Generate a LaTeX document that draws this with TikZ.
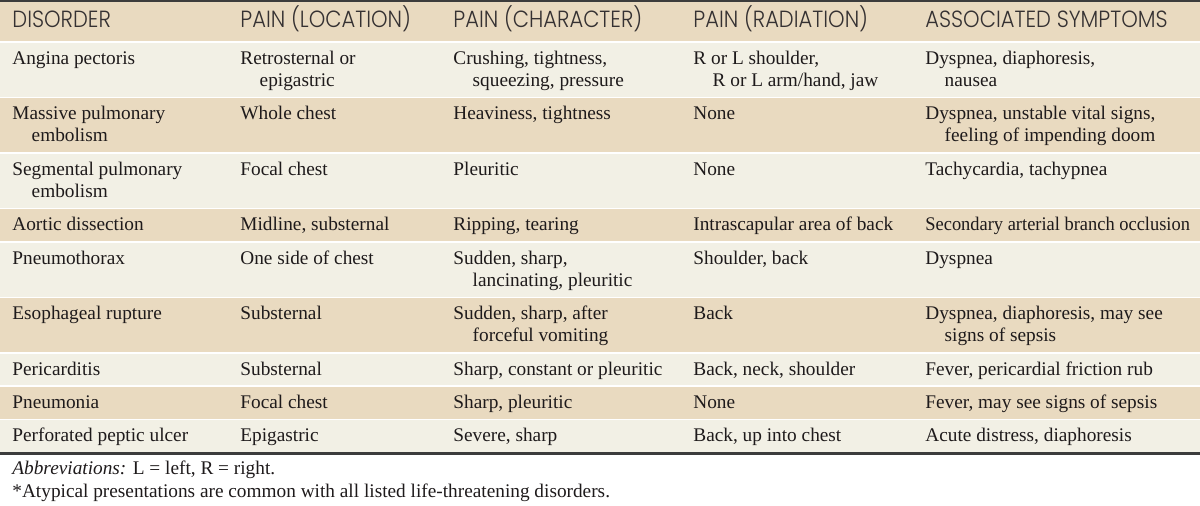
\documentclass[tikz,border=0pt]{standalone}
\usepackage{fontspec}
\setmainfont{Liberation Serif}
\newfontfamily\headfont[FakeStretch=0.9]{Poppins Light}
\definecolor{rowtan}{HTML}{E9DAC0}
\definecolor{rowpale}{HTML}{F2F0E5}
\definecolor{rulegray}{HTML}{3C3C3C}
\definecolor{ink}{HTML}{1E1A1B}
\tikzset{
	cell/.style={anchor=north west, inner sep=0pt, align=left, text=ink, font=\fontsize{9.65}{11}\selectfont},
	head/.style={anchor=base west, inner sep=0pt, text=ink!90, font=\headfont\fontsize{11.7}{12}\selectfont},
	note/.style={anchor=base west, inner sep=0pt, text=ink, font=\fontsize{9.65}{11}\selectfont},
	sep/.style={white, line width=0.75pt},
	rule/.style={rulegray, line width=1.25pt}
}
\newcommand{\hang}{\\\hspace*{1em}}
\begin{document}
\begin{tikzpicture}[x=0.5pt,y=-0.5pt]
	\useasboundingbox (0,0) rectangle (1200,506);

	\fill[rowtan]  (0,2)     rectangle (1200,42);
	\fill[rowpale] (0,42)    rectangle (1200,97.5);
	\fill[rowtan]  (0,97.5)  rectangle (1200,153);
	\fill[rowpale] (0,153)   rectangle (1200,208.5);
	\fill[rowtan]  (0,208.5) rectangle (1200,241.8);
	\fill[rowpale] (0,241.8) rectangle (1200,297.3);
	\fill[rowtan]  (0,297.3) rectangle (1200,352.8);
	\fill[rowpale] (0,352.8) rectangle (1200,386.1);
	\fill[rowtan]  (0,386.1) rectangle (1200,419.4);
	\fill[rowpale] (0,419.4) rectangle (1200,453);

	\draw[sep]
	(0,42)--(1200,42)
	(0,97.5)--(1200,97.5)
	(0,153)--(1200,153)
	(0,208.5)--(1200,208.5)
	(0,241.8)--(1200,241.8)
	(0,297.3)--(1200,297.3)
	(0,352.8)--(1200,352.8)
	(0,386.1)--(1200,386.1)
	(0,419.4)--(1200,419.4);

	\draw[rule]
	(0,1.2)--(1200,1.2)
	(0,453.5)--(1200,453.5);

	\node[head] (H1) at (12,28)  {DISORDER};
	\node[head] (H2) at (240,28) {PAIN (LOCATION)};
	\node[head] (H3) at (453,28) {PAIN (CHARACTER)};
	\node[head] (H4) at (693,28) {PAIN (RADIATION)};
	\node[head] (H5) at (925,28) {ASSOCIATED SYMPTOMS};

	\node[cell] (A1) at (12,48.6)  {\strut Angina pectoris};
	\node[cell] (A2) at (240,48.6) {\strut Retrosternal or\hang epigastric};
	\node[cell] (A3) at (453,48.6) {\strut Crushing, tightness,\hang squeezing, pressure};
	\node[cell] (A4) at (693,48.6) {\strut R or L shoulder,\hang R or L arm/hand, jaw};
	\node[cell] (A5) at (925,48.6) {\strut Dyspnea, diaphoresis,\hang nausea};

	\node[cell] (B1) at (12,104.1)  {\strut Massive pulmonary\hang embolism};
	\node[cell] (B2) at (240,104.1) {\strut Whole chest};
	\node[cell] (B3) at (453,104.1) {\strut Heaviness, tightness};
	\node[cell] (B4) at (693,104.1) {\strut None};
	\node[cell] (B5) at (925,104.1) {\strut Dyspnea, unstable vital signs,\hang feeling of impending doom};

	\node[cell] (C1) at (12,159.6)  {\strut Segmental pulmonary\hang embolism};
	\node[cell] (C2) at (240,159.6) {\strut Focal chest};
	\node[cell] (C3) at (453,159.6) {\strut Pleuritic};
	\node[cell] (C4) at (693,159.6) {\strut None};
	\node[cell] (C5) at (925,159.6) {\strut Tachycardia, tachypnea};

	\node[cell] (D1) at (12,215.1)  {\strut Aortic dissection};
	\node[cell] (D2) at (240,215.1) {\strut Midline, substernal};
	\node[cell] (D3) at (453,215.1) {\strut Ripping, tearing};
	\node[cell] (D4) at (693,215.1) {\strut Intrascapular area of back};
	\node[cell] (D5) at (925,215.1) {\strut\scalebox{0.955}[1]{Secondary arterial branch occlusion}};

	\node[cell] (E1) at (12,248.4)  {\strut Pneumothorax};
	\node[cell] (E2) at (240,248.4) {\strut One side of chest};
	\node[cell] (E3) at (453,248.4) {\strut Sudden, sharp,\hang lancinating, pleuritic};
	\node[cell] (E4) at (693,248.4) {\strut Shoulder, back};
	\node[cell] (E5) at (925,248.4) {\strut Dyspnea};

	\node[cell] (F1) at (12,303.9)  {\strut Esophageal rupture};
	\node[cell] (F2) at (240,303.9) {\strut Substernal};
	\node[cell] (F3) at (453,303.9) {\strut Sudden, sharp, after\hang forceful vomiting};
	\node[cell] (F4) at (693,303.9) {\strut Back};
	\node[cell] (F5) at (925,303.9) {\strut Dyspnea, diaphoresis, may see\hang signs of sepsis};

	\node[cell] (G1) at (12,359.4)  {\strut Pericarditis};
	\node[cell] (G2) at (240,359.4) {\strut Substernal};
	\node[cell] (G3) at (453,359.4) {\strut Sharp, constant or pleuritic};
	\node[cell] (G4) at (693,359.4) {\strut Back, neck, shoulder};
	\node[cell] (G5) at (925,359.4) {\strut Fever, pericardial friction rub};

	\node[cell] (P1) at (12,392.7)  {\strut Pneumonia};
	\node[cell] (P2) at (240,392.7) {\strut Focal chest};
	\node[cell] (P3) at (453,392.7) {\strut Sharp, pleuritic};
	\node[cell] (P4) at (693,392.7) {\strut None};
	\node[cell] (P5) at (925,392.7) {\strut Fever, may see signs of sepsis};

	\node[cell] (U1) at (12,426)  {\strut Perforated peptic ulcer};
	\node[cell] (U2) at (240,426) {\strut Epigastric};
	\node[cell] (U3) at (453,426) {\strut Severe, sharp};
	\node[cell] (U4) at (693,426) {\strut Back, up into chest};
	\node[cell] (U5) at (925,426) {\strut Acute distress, diaphoresis};

	\node[note] (N1) at (12,475) {\textit{Abbreviations:} L = left, R = right.};
	\node[note] (N2) at (12,498) {*Atypical presentations are common with all listed life-threatening disorders.};
\end{tikzpicture}
\end{document}
